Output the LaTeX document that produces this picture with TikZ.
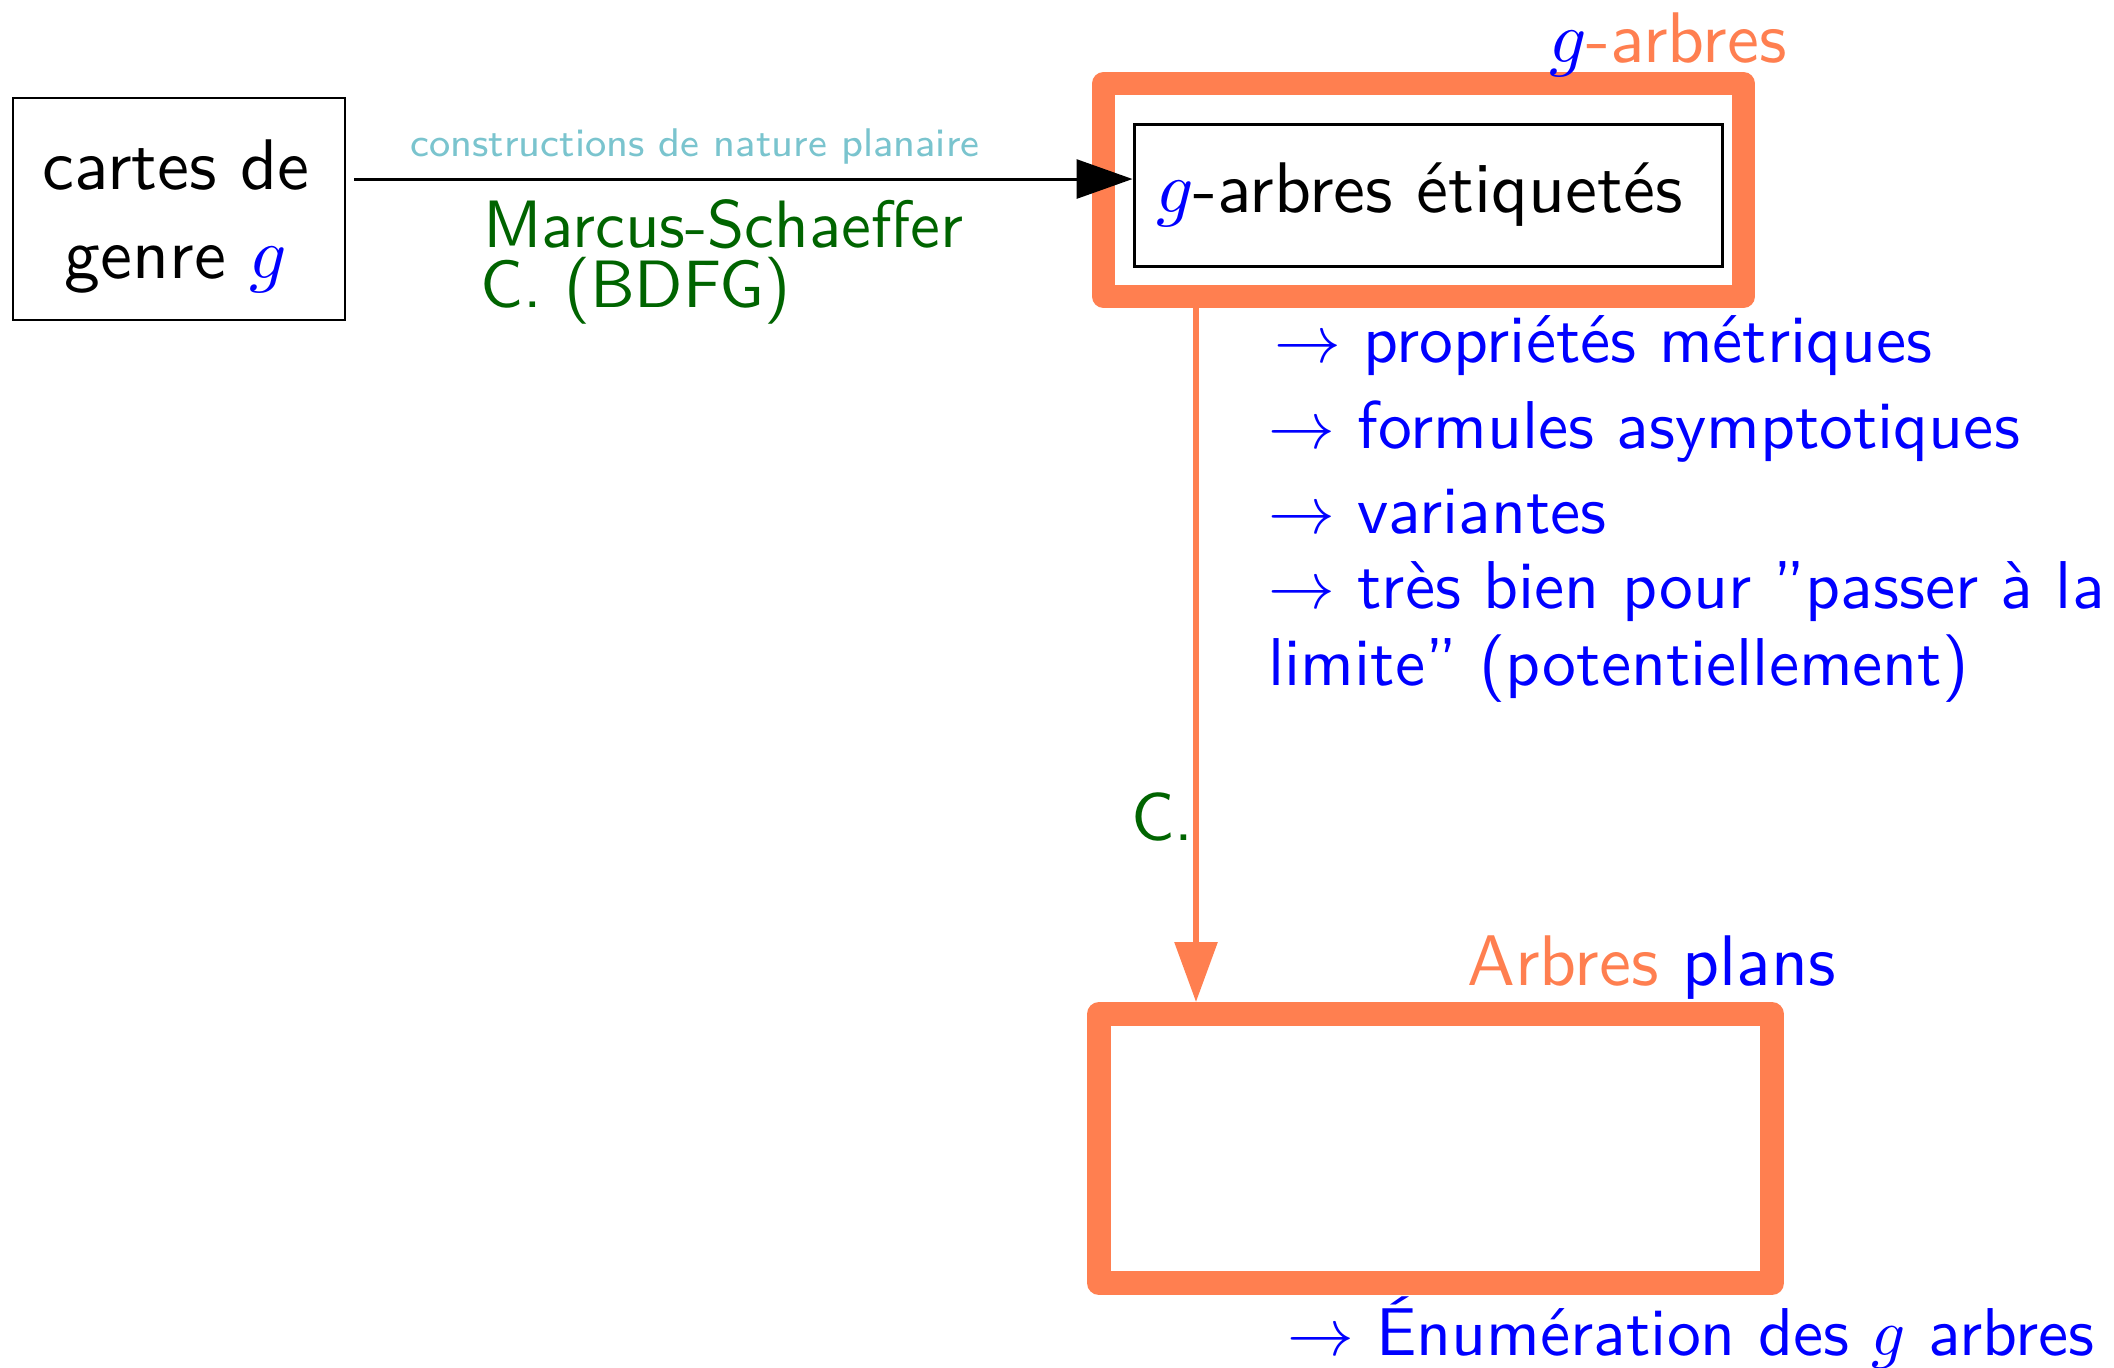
\documentclass[tikz,border=0pt]{standalone}
\usetikzlibrary{arrows.meta}
\renewcommand{\familydefault}{\sfdefault}
\definecolor{coral}{RGB}{255,127,80}
\definecolor{dgreen}{RGB}{0,100,0}
\definecolor{teallight}{RGB}{122,196,206}
\tikzset{
  txt/.style={inner sep=0pt, anchor=base west, font=\fontsize{10.15}{12}\selectfont},
  bigtxt/.style={txt, font=\fontsize{10.75}{13.35}\selectfont},
  bluetxt/.style={txt, text=blue},
  greentxt/.style={txt, text=dgreen},
  obox/.style={draw=coral, line join=round, inner sep=0pt},
  blackbox/.style={draw=black, line width=0.45pt},
}
\begin{document}
\begin{tikzpicture}[x=0.15pt,y=-0.15pt]
\useasboundingbox (0,0) rectangle (2114,1367);
% left box
\node[blackbox, line width=0.4pt, minimum width=49.8pt, minimum height=33.3pt, inner sep=0pt] (cartes) at (179,209) {};
\node[bigtxt, anchor=center, align=center] (cartestxt) at (176,216) {cartes de\\genre {\color{blue}$g$}};
% top orange box and inner box
\node[obox, line width=3.45pt, minimum width=96pt, minimum height=31.95pt] (gbox) at (1423.5,190) {};
\node[blackbox, minimum height=21.3pt, text width=81.6pt, inner xsep=3.3pt, inner ysep=3pt, align=left,
      font=\fontsize{10.75}{13}\selectfont] (inner) at (1428,195) {{\color{blue}$g$}-arbres étiquetés};
\node[bigtxt, text=coral] (glab) at (1548,62) {{\color{blue}$g$}-arbres};
% black arrow
\coordinate (a0) at (354,179);
\draw[line width=0.45pt, -{Triangle[length=8.4pt,width=5.85pt]}] (a0) -- (a0 -| inner.west);
\node[txt, anchor=base, text=teallight, font=\fontsize{6}{7}\selectfont] (cons) at (695,156) {constructions de nature planaire};
\node[greentxt, font=\fontsize{10.05}{12}\selectfont] (ms1) at (482,247) {Marcus-Schaeffer};
\node[greentxt, font=\fontsize{10.05}{12}\selectfont] (ms2) at (479,307) {C. (BDFG)};
% blue list
\node[bluetxt] (l1) at (1273,362) {$\rightarrow$ propriétés métriques};
\node[bluetxt] (l2) at (1267,448) {$\rightarrow$ formules asymptotiques};
\node[bluetxt] (l3) at (1267,533) {$\rightarrow$ variantes};
\node[bluetxt] (l4) at (1267,608) {$\rightarrow$ très bien pour ”passer à la};
\node[bluetxt] (l5) at (1267,685) {limite” (potentiellement)};
% lower part
\node[bluetxt] (enum) at (1286,1355) {$\rightarrow$ Énumération des $g$ arbres};
\node[obox, line width=3.6pt, minimum width=100.95pt, minimum height=40.35pt] (plan) at (1435.5,1148.5) {};
\node[bigtxt, text=coral] (alab) at (1466,985) {Arbres {\color{blue}plans}};
\node[greentxt] (c) at (1130,840) {C.};
% orange arrow
\coordinate (ax) at (1196,0);
\draw[coral, line width=0.9pt, -{Triangle[length=9pt,width=6.3pt]}]
  (gbox.south -| ax) -- (plan.north -| ax);
\end{tikzpicture}
\end{document}
